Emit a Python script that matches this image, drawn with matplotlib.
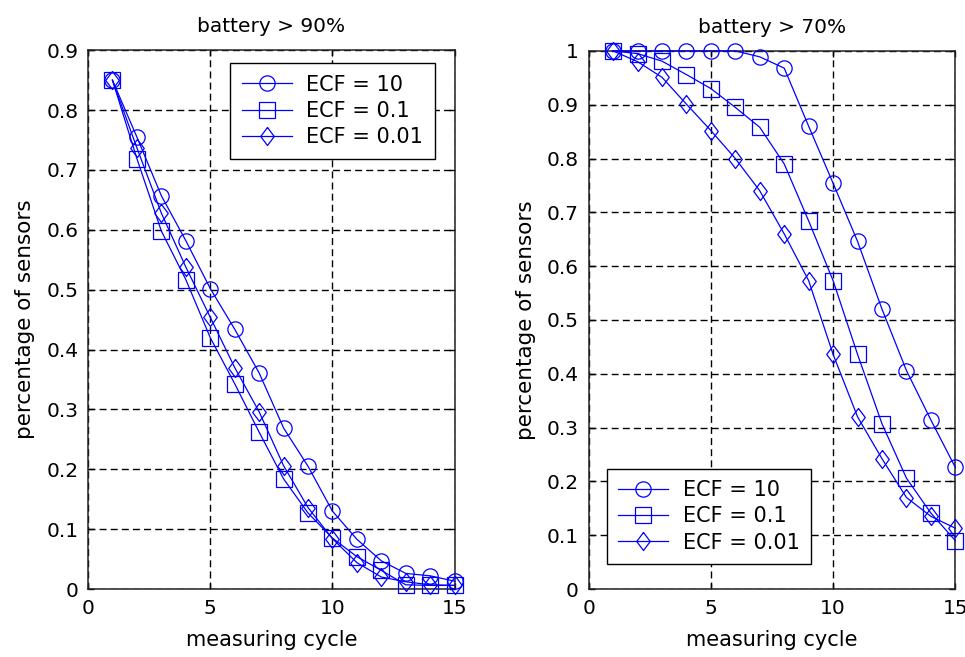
import numpy as np
import matplotlib
matplotlib.use('Agg')
import matplotlib.pyplot as plt

# measuring cycles
cycles = np.arange(1, 16)

# battery > 90%
left_ecf10 = [0.85, 0.755, 0.657, 0.582, 0.502, 0.434, 0.361, 0.269, 0.205, 0.13,
              0.083, 0.047, 0.026, 0.022, 0.013]
left_ecf01 = [0.85, 0.719, 0.598, 0.517, 0.42, 0.343, 0.262, 0.184, 0.127, 0.085,
              0.054, 0.031, 0.007, 0.006, 0.006]
left_ecf001 = [0.85, 0.737, 0.628, 0.538, 0.454, 0.37, 0.296, 0.206, 0.136, 0.084,
               0.044, 0.02, 0.012, 0.007, 0.006]

# battery > 70%
right_ecf10 = [1.0, 1.0, 1.0, 1.0, 1.0, 1.0, 0.989, 0.968, 0.86, 0.754,
               0.646, 0.52, 0.406, 0.314, 0.226]
right_ecf01 = [1.0, 0.995, 0.981, 0.956, 0.93, 0.895, 0.858, 0.79, 0.684, 0.573,
               0.436, 0.307, 0.206, 0.141, 0.09]
right_ecf001 = [1.0, 0.98, 0.951, 0.901, 0.852, 0.8, 0.74, 0.66, 0.573, 0.436,
                0.32, 0.242, 0.17, 0.135, 0.113]

labels = ['ECF = 10', 'ECF = 0.1', 'ECF = 0.01']
titles = ['battery > 90%', 'battery > 70%']
xticks = [0, 5, 10, 15]
left_yticks = [0, 0.1, 0.2, 0.3, 0.4, 0.5, 0.6, 0.7, 0.8, 0.9]
left_yticklabels = ['0', '0.1', '0.2', '0.3', '0.4', '0.5', '0.6', '0.7', '0.8', '0.9']
right_yticks = [0, 0.1, 0.2, 0.3, 0.4, 0.5, 0.6, 0.7, 0.8, 0.9, 1.0]
right_yticklabels = ['0', '0.1', '0.2', '0.3', '0.4', '0.5', '0.6', '0.7', '0.8', '0.9', '1']

plt.rcParams['font.family'] = ['DejaVu Sans']
plt.rcParams['font.size'] = 14.5

diamond = [(0, 1), (0.75, 0), (0, -1), (-0.75, 0), (0, 1)]
styles = [dict(marker='o', markersize=11),
          dict(marker='s', markersize=11),
          dict(marker=diamond, markersize=13)]

fig = plt.figure(figsize=(9.65, 6.57), dpi=100)
ax1 = fig.add_axes([0.0912, 0.1035, 0.380, 0.820])
ax2 = fig.add_axes([0.610, 0.1035, 0.380, 0.819])


def draw(ax, series, title, ymax, yticks, yticklabels, leg_loc, leg_anchor):
    for vals, lab, st in zip(series, labels, styles):
        ax.plot(cycles, vals, color='#0000ff', linewidth=0.9, markerfacecolor='none',
                markeredgecolor='#0000ff', markeredgewidth=0.9, label=lab,
                clip_on=False, zorder=3, **st)
    ax.set_xlim(0, 15)
    ax.set_ylim(0, ymax)
    ax.set_xticks(xticks)
    ax.set_yticks(yticks)
    ax.set_yticklabels(yticklabels)
    ax.grid(True, color='k', linestyle=(0, (5, 3)), linewidth=1.0)
    ax.tick_params(direction='in', top=True, right=True, length=4, width=1, pad=7)
    for sp in ax.spines.values():
        sp.set_linewidth(1.1)
        sp.set_color('#222222')
    ax.set_title(title, pad=13, fontsize=14.5)
    ax.set_xlabel('measuring cycle', labelpad=9, fontsize=15)
    ax.set_ylabel('percentage of sensors', labelpad=8, fontsize=15.5)
    leg = ax.legend(loc=leg_loc, bbox_to_anchor=leg_anchor, borderaxespad=0,
                    fancybox=False, edgecolor='k', framealpha=1, fontsize=15,
                    handlelength=2.4, labelspacing=0.3, borderpad=0.55,
                    handletextpad=0.7)
    leg.get_frame().set_linewidth(1.0)
    leg.set_zorder(5)


draw(ax1, [left_ecf10, left_ecf01, left_ecf001], titles[0], 0.9,
     left_yticks, left_yticklabels, 'upper right', (0.9455, 0.976))
draw(ax2, [right_ecf10, right_ecf01, right_ecf001], titles[1], 1.0,
     right_yticks, right_yticklabels, 'lower left', (0.049, 0.0465))

fig.savefig('out.png', dpi=100)
